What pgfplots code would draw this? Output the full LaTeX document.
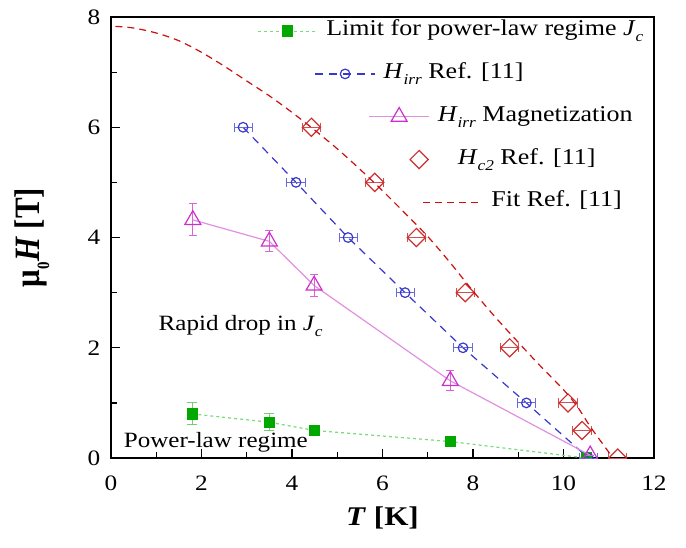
\documentclass[border=0pt]{standalone}
\usepackage{fontspec}
\setmainfont[FakeStretch=1.15]{Liberation Serif}
\newfontfamily\ylabfont{Liberation Serif}
\usepackage{pgfplots}
\pgfplotsset{compat=1.18}

\definecolor{gsq}{HTML}{00A800}
\definecolor{gline}{HTML}{78DC78}
\definecolor{bcir}{HTML}{3838CC}
\definecolor{mtri}{HTML}{CC30CC}
\definecolor{mline}{HTML}{E090E0}
\definecolor{rdia}{HTML}{CC3030}
\definecolor{rfit}{HTML}{CC1010}

\newcommand\sub[1]{\raisebox{-0.6ex}{\fontsize{7.5}{8}\selectfont #1}}

\pgfplotsset{
  lline/.style={legend image code/.code={\draw[mark repeat=2,mark phase=2,xshift=#1,##1] plot coordinates {(0pt,0pt) (15pt,0pt) (30pt,0pt)};}},
  lmark/.style={legend image code/.code={\draw[xshift=#1,##1] plot coordinates {(15pt,0pt)};}},
}

\begin{document}
\begin{tikzpicture}
\begin{axis}[
    width=271.5pt, height=220.5pt, scale only axis,
    xmin=0, xmax=12, ymin=0, ymax=8,
    xtick={0,2,...,12}, ytick={0,2,...,8},
    minor x tick num=1, minor y tick num=1,
    tick align=inside, xtick pos=bottom, ytick pos=left,
    major tick length=4.5pt, minor tick length=2.8pt,
    tick style={black, line width=0.6pt},
    axis line style={line width=0.8pt},
    ticklabel style={font=\fontsize{11}{13}\selectfont},
    /pgf/number format/assume math mode=true,
    xticklabel style={yshift=-5.5pt}, yticklabel style={xshift=-1.8pt},
    xlabel={\textbf{\textit{T} [K]}},
    ylabel={\ylabfont\bfseries μ\sub{\bfseries 0}\textit{H} [T]},
    xlabel style={at={(axis description cs:0.5,-0.136)}, anchor=center, font=\fontsize{13.5}{15}\selectfont},
    ylabel style={at={(axis description cs:-0.1455,0.5)}, anchor=center, yscale=1.15, font=\fontsize{15.5}{17}\selectfont},
    clip marker paths=true,
    legend cell align=left,
    legend style={at={(axis description cs:0.2685,0.995)}, anchor=north west,
        draw=none, fill=none, inner sep=0pt, column sep=4pt, row sep=9.9pt,
        font=\fontsize{11.3}{13}\selectfont,
        nodes={inner sep=0pt, text height=8pt, text depth=3.5pt}},
]
% limit for power-law regime
\addplot[gline, line width=0.6pt, dash pattern=on 1.5pt off 1.5pt,
    mark=square*, mark size=2.5pt, mark options={solid, draw=gsq, fill=gsq},
    lline=-82.5pt,
    error bars/.cd, y dir=both, y explicit,
    error bar style={gsq!55, solid, line width=0.5pt},
    error mark options={gsq!55, rotate=90, mark size=2.5pt, line width=0.5pt}]
coordinates {
    (1.8,0.80) +- (0,0.20)
    (3.5,0.65) +- (0,0.15)
    (4.5,0.50) +- (0,0.08)
    (7.5,0.30) +- (0,0.04)
    (10.5,0.00) +- (0,0.00)
};
\addlegendentry{\hspace{-82.5pt}Limit for power-law regime \textit{J}\sub{\itshape c}}
% H_irr Ref. [11]
\addplot[bcir, line width=0.6pt, dash pattern=on 4pt off 3pt,
    mark=o, mark size=2.4pt, mark options={solid, fill=white},
    lline=-53.8pt,
    error bars/.cd, x dir=both, x explicit,
    error bar style={bcir!75, solid, line width=0.5pt},
    error mark options={bcir!75, rotate=90, mark size=2.3pt, line width=0.5pt}]
coordinates {
    (2.92,6) +- (0.2,0)
    (4.09,5) +- (0.2,0)
    (5.24,4) +- (0.2,0)
    (6.50,3) +- (0.2,0)
    (7.78,2) +- (0.2,0)
    (9.18,1) +- (0.2,0)
    (10.55,0) +- (0.2,0)
};
\addlegendentry{\hspace{-53.8pt}\textit{H}\sub{\itshape irr} Ref. [11]}
% H_irr magnetization
\addplot[mline, line width=0.6pt,
    mark=triangle, mark size=4.6pt, mark options={mtri, solid, fill=white, line width=0.6pt},
    lline=-26.8pt,
    error bars/.cd, y dir=both, y explicit,
    error bar style={mtri!75, solid, line width=0.5pt},
    error mark options={mtri!75, rotate=90, mark size=2pt, line width=0.5pt}]
coordinates {
    (1.81,4.32) +- (0,0.29)
    (3.50,3.93) +- (0,0.19)
    (4.49,3.13) +- (0,0.20)
    (7.50,1.40) +- (0,0.18)
    (10.59,0.05) +- (0,0.00)
};
\addlegendentry{\hspace{-26.8pt}\textit{H}\sub{\itshape irr} Magnetization}
% H_c2 Ref. [11]
\addplot[rdia, only marks, line width=0.6pt,
    mark=square, mark size=3.2pt, mark options={rotate=45, fill=white},
    lmark=-16.8pt,
    error bars/.cd, x dir=both, x explicit,
    error bar style={rdia!85, line width=0.5pt},
    error mark options={rdia!85, rotate=90, mark size=2.3pt, line width=0.5pt}]
coordinates {
    (4.43,6.0) +- (0.2,0)
    (5.83,5.0) +- (0.2,0)
    (6.75,4.0) +- (0.2,0)
    (7.83,3.0) +- (0.2,0)
    (8.81,2.0) +- (0.2,0)
    (10.10,1.0) +- (0.2,0)
    (10.41,0.5) +- (0.2,0)
    (11.20,0.0) +- (0.2,0)
};
\addlegendentry{\hspace{-16.8pt}\textit{H}\sub{\itshape c2} Ref. [11]}
% fit
\addplot[rfit, line width=0.6pt, dash pattern=on 3.5pt off 2.5pt, smooth, lline=0pt]
coordinates {
    (0.1,7.83) (0.5,7.80) (1.0,7.71) (1.5,7.57) (2.0,7.36) (2.5,7.11)
    (3.0,6.84) (3.5,6.57) (4.0,6.27) (4.5,5.95) (5.0,5.61) (5.5,5.24)
    (6.0,4.85) (6.5,4.44) (7.0,4.02) (7.5,3.54) (8.0,3.03) (8.5,2.55)
    (9.0,2.10) (9.5,1.66) (10.0,1.24) (10.3,0.94) (10.6,0.56) (10.9,0.22)
    (11.05,0.05)
};
\addlegendentry{Fit Ref. [11]}

\node[anchor=base west, font=\fontsize{10.9}{13}\selectfont] at (axis cs:0.9,2.32) {Rapid drop in \textit{J}\sub{\itshape c}};
\node[anchor=base west, font=\fontsize{10.9}{13}\selectfont] at (axis cs:0.13,0.2) {Power-law regime};
\end{axis}
\path ([shift={(-55.45pt,-44.5pt)}]current axis.south west) rectangle ([shift={(16pt,8.5pt)}]current axis.north east);
\end{tikzpicture}
\end{document}
